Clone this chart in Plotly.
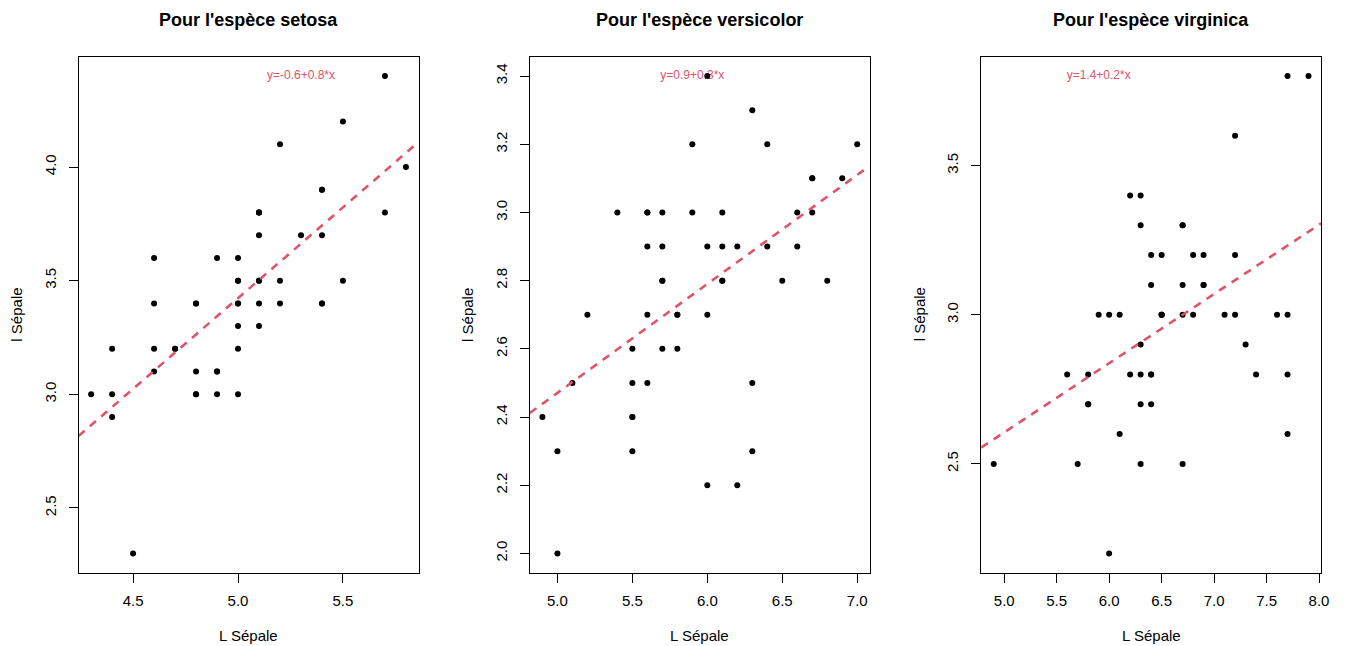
import numpy as np
import plotly.graph_objects as go

species = ["setosa", "versicolor", "virginica"]

setosa_sl = [5.1,4.9,4.7,4.6,5.0,5.4,4.6,5.0,4.4,4.9,5.4,4.8,4.8,4.3,5.8,5.7,5.4,5.1,5.7,5.1,
             5.4,5.1,4.6,5.1,4.8,5.0,5.0,5.2,5.2,4.7,4.8,5.4,5.2,5.5,4.9,5.0,5.5,4.9,4.4,5.1,
             5.0,4.5,4.4,5.0,5.1,4.8,5.1,4.6,5.3,5.0]
setosa_sw = [3.5,3.0,3.2,3.1,3.6,3.9,3.4,3.4,2.9,3.1,3.7,3.4,3.0,3.0,4.0,4.4,3.9,3.5,3.8,3.8,
             3.4,3.7,3.6,3.3,3.4,3.0,3.4,3.5,3.4,3.2,3.1,3.4,4.1,4.2,3.1,3.2,3.5,3.6,3.0,3.4,
             3.5,2.3,3.2,3.5,3.8,3.0,3.8,3.2,3.7,3.3]
versicolor_sl = [7.0,6.4,6.9,5.5,6.5,5.7,6.3,4.9,6.6,5.2,5.0,5.9,6.0,6.1,5.6,6.7,5.6,5.8,6.2,5.6,
                 5.9,6.1,6.3,6.1,6.4,6.6,6.8,6.7,6.0,5.7,5.5,5.5,5.8,6.0,5.4,6.0,6.7,6.3,5.6,5.5,
                 5.5,6.1,5.8,5.0,5.6,5.7,5.7,6.2,5.1,5.7]
versicolor_sw = [3.2,3.2,3.1,2.3,2.8,2.8,3.3,2.4,2.9,2.7,2.0,3.0,2.2,2.9,2.9,3.1,3.0,2.7,2.2,2.5,
                 3.2,2.8,2.5,2.8,2.9,3.0,2.8,3.0,2.9,2.6,2.4,2.4,2.7,2.7,3.0,3.4,3.1,2.3,3.0,2.5,
                 2.6,3.0,2.6,2.3,2.7,3.0,2.9,2.9,2.5,2.8]
virginica_sl = [6.3,5.8,7.1,6.3,6.5,7.6,4.9,7.3,6.7,7.2,6.5,6.4,6.8,5.7,5.8,6.4,6.5,7.7,7.7,6.0,
                6.9,5.6,7.7,6.3,6.7,7.2,6.2,6.1,6.4,7.2,7.4,7.9,6.4,6.3,6.1,7.7,6.3,6.4,6.0,6.9,
                6.7,6.9,5.8,6.8,6.7,6.7,6.3,6.5,6.2,5.9]
virginica_sw = [3.3,2.7,3.0,2.9,3.0,3.0,2.5,2.9,2.5,3.6,3.2,2.7,3.0,2.5,2.8,3.2,3.0,3.8,2.6,2.2,
                3.2,2.8,2.8,2.7,3.3,3.2,2.8,3.0,2.8,3.0,2.8,3.8,2.8,2.8,2.6,3.0,3.4,3.1,3.0,3.1,
                3.1,3.1,2.7,3.2,3.3,3.0,2.5,3.0,3.4,3.0]

x_ticks = [[4.5, 5.0, 5.5], [5.0, 5.5, 6.0, 6.5, 7.0], [5.0, 5.5, 6.0, 6.5, 7.0, 7.5, 8.0]]
y_ticks = [[2.5, 3.0, 3.5, 4.0], [2.0, 2.2, 2.4, 2.6, 2.8, 3.0, 3.2, 3.4], [2.5, 3.0, 3.5]]
label_x = [5.3, 5.9, 5.9]

data_x = [setosa_sl, versicolor_sl, virginica_sl]
data_y = [setosa_sw, versicolor_sw, virginica_sw]

W, H = 1348, 646
boxes = [(79, 421), (533, 875), (987, 1329)]
top_px, bot_px = 57, 572.5
RED = "#DF536B"
FONT = "Liberation Sans, Arial, Helvetica, sans-serif"

fig = go.Figure()
annotations = []
for i, sp in enumerate(species):
    xs = np.array(data_x[i]); ys = np.array(data_y[i])
    b, a = np.polyfit(xs, ys, 1)
    xr = [xs.min() - 0.04 * (xs.max() - xs.min()), xs.max() + 0.04 * (xs.max() - xs.min())]
    yr = [ys.min() - 0.04 * (ys.max() - ys.min()), ys.max() + 0.04 * (ys.max() - ys.min())]
    ax = "" if i == 0 else str(i + 1)
    xa, ya = "x" + ax, "y" + ax
    # equation text (drawn beneath the points)
    fig.add_trace(go.Scatter(x=[label_x[i]], y=[ys.max()], mode="text",
                             text=[f"y={a:.1f}+{b:.1f}*x"],
                             textfont=dict(color=RED, size=12, family=FONT),
                             textposition="middle center", xaxis=xa, yaxis=ya,
                             showlegend=False, hoverinfo="skip", cliponaxis=False))
    fig.add_trace(go.Scatter(x=xs, y=ys, mode="markers",
                             marker=dict(color="black", size=6),
                             xaxis=xa, yaxis=ya, showlegend=False))
    lx = np.array(xr)
    fig.add_trace(go.Scatter(x=lx, y=a + b * lx, mode="lines",
                             line=dict(color=RED, width=2.6, dash="8px,7px"),
                             xaxis=xa, yaxis=ya, showlegend=False, hoverinfo="skip"))
    x0, x1 = boxes[i]
    dom_x = [x0 / W, x1 / W]
    dom_y = [(H - bot_px) / H, (H - top_px) / H]
    axis_common = dict(showgrid=False, zeroline=False, showline=True, linecolor="black",
                       linewidth=1, mirror=True, ticks="outside", ticklen=9, tickwidth=1,
                       tickcolor="black", tickfont=dict(size=15, family=FONT, color="black"),
                       tickformat=".1f")
    fig.update_layout(**{
        "xaxis" + ax: dict(domain=dom_x, range=xr, tickvals=x_ticks[i], anchor=ya,
                           ticklabelstandoff=5, **axis_common),
        "yaxis" + ax: dict(domain=dom_y, range=yr, tickvals=y_ticks[i], anchor=xa,
                           tickangle=-90, ticklabelstandoff=7, **axis_common),
    })
    cx = (x0 + x1) / 2 / W
    annotations.append(dict(text=f"<b>Pour l'espèce {sp}</b>", x=cx, y=1 - 20 / H,
                            xref="paper", yref="paper", showarrow=False,
                            font=dict(size=18, family=FONT, color="black"),
                            xanchor="center", yanchor="middle"))
    annotations.append(dict(text="L Sépale", x=cx, y=1 - 635 / H,
                            xref="paper", yref="paper", showarrow=False,
                            font=dict(size=15, family=FONT, color="black"),
                            xanchor="center", yanchor="middle"))
    annotations.append(dict(text="l Sépale", x=(x0 - 62) / W, y=1 - (top_px + bot_px) / 2 / H,
                            xref="paper", yref="paper", showarrow=False, textangle=-90,
                            font=dict(size=15, family=FONT, color="black"),
                            xanchor="center", yanchor="middle"))

fig.update_layout(width=W, height=H, margin=dict(l=0, r=0, t=0, b=0),
                  paper_bgcolor="white", plot_bgcolor="white",
                  annotations=annotations, showlegend=False)
post = ("var s='margin:0;padding:0;width:1348px;height:646px;overflow:hidden;';"
        "document.documentElement.style.cssText=s;document.body.style.cssText=s;")
fig.write_html("out.html", config={"displayModeBar": False}, post_script=post)
